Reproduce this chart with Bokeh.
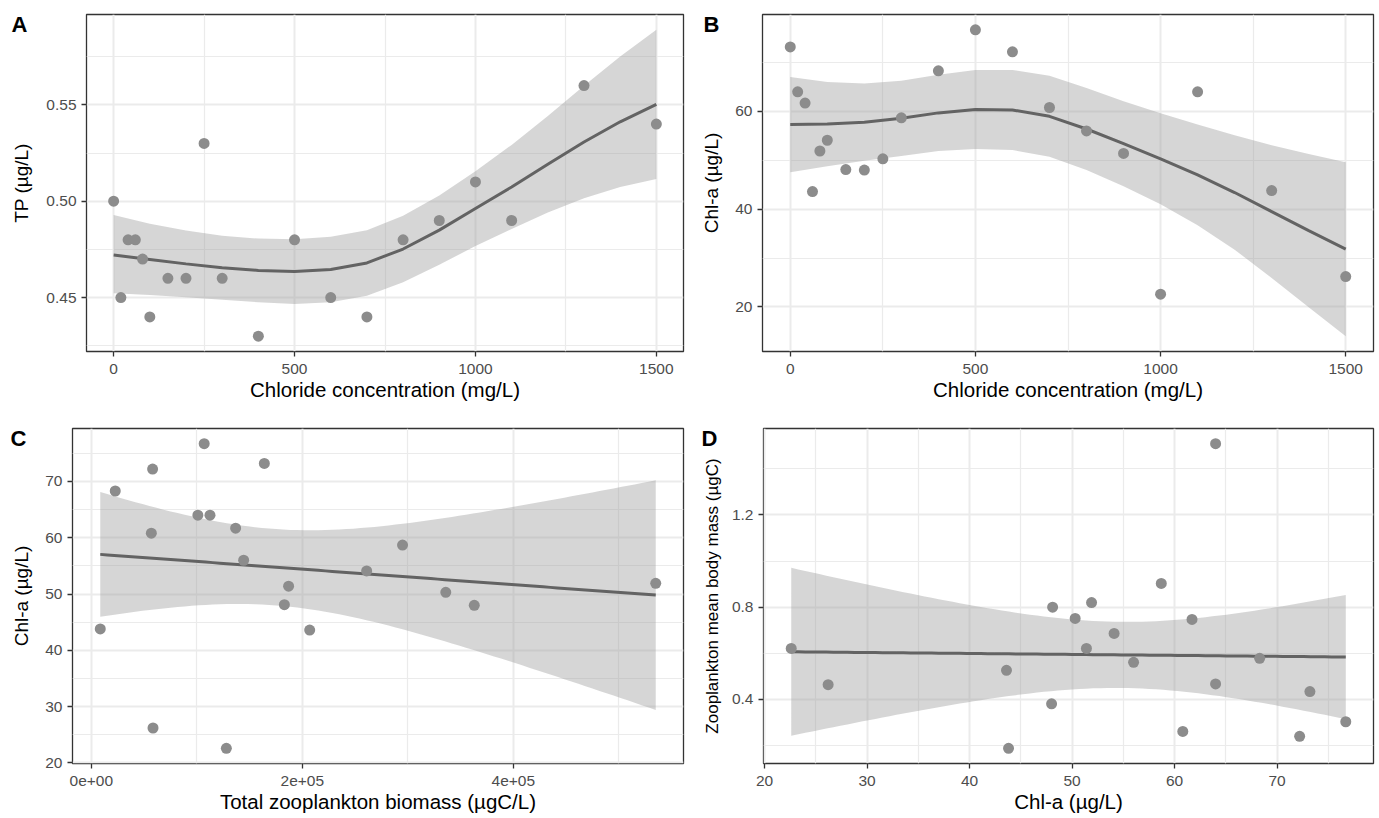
import numpy as np
from bokeh.plotting import figure
from bokeh.layouts import column, row
from bokeh.models import FixedTicker, LinearAxis, Range1d
from bokeh.embed import file_html
from bokeh.resources import INLINE

# ---------------- data ----------------
chloride = [0, 20, 40, 60, 80, 100, 150, 200, 250, 300, 400, 500, 600,
            700, 800, 900, 1000, 1100, 1300, 1500]
tp = [0.50, 0.45, 0.48, 0.48, 0.47, 0.44, 0.46, 0.46, 0.53, 0.46, 0.43,
      0.48, 0.45, 0.44, 0.48, 0.49, 0.51, 0.49, 0.56, 0.54]
chla = [73.2, 64.0, 61.7, 43.6, 51.9, 54.1, 48.1, 48.0, 50.3, 58.7, 68.3,
        76.7, 72.2, 60.8, 56.0, 51.4, 22.6, 64.0, 43.8, 26.2]
biomass = [164000, 101000, 136800, 207000, 535000, 261000, 183000, 363000,
           336000, 295000, 22700, 107000, 58100, 56900, 144400, 187000,
           128000, 112500, 8500, 58500]
body_mass = [0.434, 1.509, 0.747, 0.526, 0.820, 0.686, 0.800, 0.381, 0.751,
             0.903, 0.578, 0.303, 0.240, 0.261, 0.561, 0.621, 0.621, 0.467,
             0.188, 0.464]

# smooth curves and 95% bands (panels A and B)
smooth_x = [0, 100, 200, 300, 400, 500, 600, 700, 800, 900, 1000, 1100,
            1200, 1300, 1400, 1500]
tp_fit = [0.4721, 0.4698, 0.4675, 0.4655, 0.4641, 0.4635, 0.4646, 0.4680,
          0.4752, 0.4850, 0.4962, 0.5074, 0.5192, 0.5307, 0.5412, 0.5502]
tp_hi = [0.4929, 0.4883, 0.4848, 0.4821, 0.4806, 0.4803, 0.4816, 0.4850,
         0.4924, 0.5030, 0.5156, 0.5292, 0.5442, 0.5599, 0.5750, 0.5889]
tp_lo = [0.4523, 0.4513, 0.4502, 0.4489, 0.4476, 0.4467, 0.4476, 0.4510,
         0.4580, 0.4670, 0.4768, 0.4856, 0.4942, 0.5015, 0.5074, 0.5115]
chla_fit = [57.3, 57.4, 57.8, 58.6, 59.7, 60.4, 60.3, 59.0, 56.4, 53.4,
            50.3, 47.0, 43.4, 39.5, 35.6, 31.8]
chla_hi = [67.05, 66.0, 65.7, 66.3, 67.5, 68.5, 68.5, 67.3, 64.8, 62.1,
           59.6, 57.3, 55.1, 53.1, 51.3, 49.6]
chla_lo = [47.55, 48.8, 49.9, 50.9, 51.9, 52.3, 52.1, 50.7, 48.0, 44.7,
           41.0, 36.7, 31.7, 25.9, 19.9, 14.0]

# ticks
chl_x_ticks = [0, 500, 1000, 1500]
chl_x_minor = [250, 750, 1250]
chl_x_labels = ["0", "500", "1000", "1500"]
tp_ticks = [0.45, 0.50, 0.55]
tp_minor = [0.425, 0.475, 0.525, 0.575]
tp_labels = ["0.45", "0.50", "0.55"]
chla_b_ticks = [20, 40, 60]
chla_b_minor = [10, 30, 50, 70]
chla_b_labels = ["20", "40", "60"]
chla_c_ticks = [20, 30, 40, 50, 60, 70]
chla_c_minor = [25, 35, 45, 55, 65, 75]
chla_c_labels = ["20", "30", "40", "50", "60", "70"]
bio_ticks = [0, 200000, 400000]
bio_minor = [100000, 300000, 500000]
bio_labels = ["0e+00", "2e+05", "4e+05"]
mass_ticks = [0.4, 0.8, 1.2]
mass_minor = [0.2, 0.6, 1.0, 1.4]
mass_labels = ["0.4", "0.8", "1.2"]

FONT = "Liberation Sans"


def t975(df):
    z = 1.959963985
    g1 = (z**3 + z) / 4
    g2 = (5 * z**5 + 16 * z**3 + 3 * z) / 96
    g3 = (3 * z**7 + 19 * z**5 + 17 * z**3 - 15 * z) / 384
    g4 = (79 * z**9 + 776 * z**7 + 1482 * z**5 - 1920 * z**3 - 945 * z) / 92160
    return z + g1 / df + g2 / df**2 + g3 / df**3 + g4 / df**4


def lm_smooth(x, y, n_grid=80):
    x = np.asarray(x, float)
    y = np.asarray(y, float)
    n = len(x)
    xm, ym = x.mean(), y.mean()
    sxx = np.sum((x - xm) ** 2)
    b = np.sum((x - xm) * (y - ym)) / sxx
    a = ym - b * xm
    s = np.sqrt(np.sum((y - a - b * x) ** 2) / (n - 2))
    g = np.linspace(x.min(), x.max(), n_grid)
    fit = a + b * g
    se = s * np.sqrt(1.0 / n + (g - xm) ** 2 / sxx)
    tq = t975(n - 2)
    return g, fit, fit - tq * se, fit + tq * se


def panel(letter, xs, ys, smooth, xt, xmn, xl, yt, ymn, yl, xlabel, ylabel,
          width, height, mbl, mbr, mbt, mbb, letter_standoff,
          ylab_size="19px", ylab_standoff=10):
    g, fit, lo, hi = smooth
    x0, x1 = min(xs), max(xs)
    dx = (x1 - x0) * 0.05
    y0 = min(min(ys), min(lo))
    y1 = max(max(ys), max(hi))
    dy = (y1 - y0) * 0.05
    xr = Range1d(x0 - dx, x1 + dx)
    yr = Range1d(y0 - dy, y1 + dy)
    p = figure(width=width, height=height, output_backend="svg",
               toolbar_location=None, tools="", x_range=xr, y_range=yr,
               min_border_left=mbl, min_border_right=mbr,
               min_border_top=mbt, min_border_bottom=mbb)
    p.background_fill_color = "white"
    p.border_fill_color = "white"
    p.outline_line_color = "#333333"
    p.outline_line_width = 1.3

    xtk = FixedTicker(ticks=xt, minor_ticks=xmn)
    ytk = FixedTicker(ticks=yt, minor_ticks=ymn)
    p.xaxis.ticker = xtk
    p.yaxis.ticker = ytk
    p.xgrid.ticker = xtk
    p.ygrid.ticker = ytk
    p.xaxis.major_label_overrides = {v: s for v, s in zip(xt, xl)}
    p.yaxis.major_label_overrides = {v: s for v, s in zip(yt, yl)}

    for grid in (p.xgrid, p.ygrid):
        grid.grid_line_color = "#EBEBEB"
        grid.grid_line_width = 2
        grid.minor_grid_line_color = "#EBEBEB"
        grid.minor_grid_line_width = 1.2

    for ax in (p.xaxis, p.yaxis):
        ax.axis_line_color = None
        ax.major_tick_line_color = "#333333"
        ax.major_tick_line_width = 1.3
        ax.major_tick_in = 0
        ax.major_tick_out = 5
        ax.minor_tick_line_color = None
        ax.major_label_text_font = FONT
        ax.major_label_text_font_size = "15.5px"
        ax.major_label_text_color = "#4D4D4D"
        ax.axis_label_text_font = FONT
        ax.axis_label_text_font_style = "normal"
        ax.axis_label_text_color = "#000000"

    p.xaxis.axis_label = xlabel
    p.xaxis.axis_label_text_font_size = "20.5px"
    p.xaxis.major_label_standoff = 7
    p.xaxis.axis_label_standoff = 1
    p.yaxis.axis_label = ylabel
    p.yaxis.axis_label_text_font_size = ylab_size
    p.yaxis.major_label_standoff = 5
    p.yaxis.axis_label_standoff = ylab_standoff

    p.varea(x=g, y1=lo, y2=hi, fill_color="#999999", fill_alpha=0.4)
    p.line(g, fit, line_color="#636363", line_width=3)
    p.scatter(xs, ys, size=11, fill_color="#8C8C8C", line_color=None)

    # panel tag (A, B, C, D): a label-only axis at the top-left corner
    frame_h = height - mbt - mbb
    yv = yr.end - 10.0 * (yr.end - yr.start) / frame_h
    tag = LinearAxis(ticker=FixedTicker(ticks=[yv]),
                     major_label_overrides={yv: letter},
                     axis_line_color=None, major_tick_line_color=None,
                     minor_tick_line_color=None, major_tick_in=0,
                     major_tick_out=0, major_label_standoff=letter_standoff,
                     major_label_text_font=FONT,
                     major_label_text_font_style="bold",
                     major_label_text_font_size="22px",
                     major_label_text_color="#000000")
    p.add_layout(tag, "left")
    return p


sA = (smooth_x, tp_fit, tp_lo, tp_hi)
sB = (smooth_x, chla_fit, chla_lo, chla_hi)
sC = lm_smooth(biomass, chla)
sD = lm_smooth(chla, body_mass)

pA = panel("A", chloride, tp, sA, chl_x_ticks, chl_x_minor, chl_x_labels,
           tp_ticks, tp_minor, tp_labels,
           "Chloride concentration (mg/L)", "TP (\u00b5g/L)",
           690, 410, 86, 7, 14, 59, -19, ylab_standoff=11)
pB = panel("B", chloride, chla, sB, chl_x_ticks, chl_x_minor, chl_x_labels,
           chla_b_ticks, chla_b_minor, chla_b_labels,
           "Chloride concentration (mg/L)", "Chl-a (\u00b5g/L)",
           688, 410, 72, 5, 14, 59, -21)
pC = panel("C", biomass, chla, sC, bio_ticks, bio_minor, bio_labels,
           chla_c_ticks, chla_c_minor, chla_c_labels,
           "Total zooplankton biomass (\u00b5gC/L)", "Chl-a (\u00b5g/L)",
           690, 407, 72, 7, 18, 54, -18)
pD = panel("D", chla, body_mass, sD, chla_c_ticks, chla_c_minor, chla_c_labels,
           mass_ticks, mass_minor, mass_labels,
           "Chl-a (\u00b5g/L)", "Zooplankton mean body mass (\u00b5gC)",
           688, 407, 73, 5, 18, 54, -18, ylab_size="17px", ylab_standoff=7)

layout = column(row(pA, pB), row(pC, pD))
open("out.html", "w").write(file_html(layout, INLINE))
